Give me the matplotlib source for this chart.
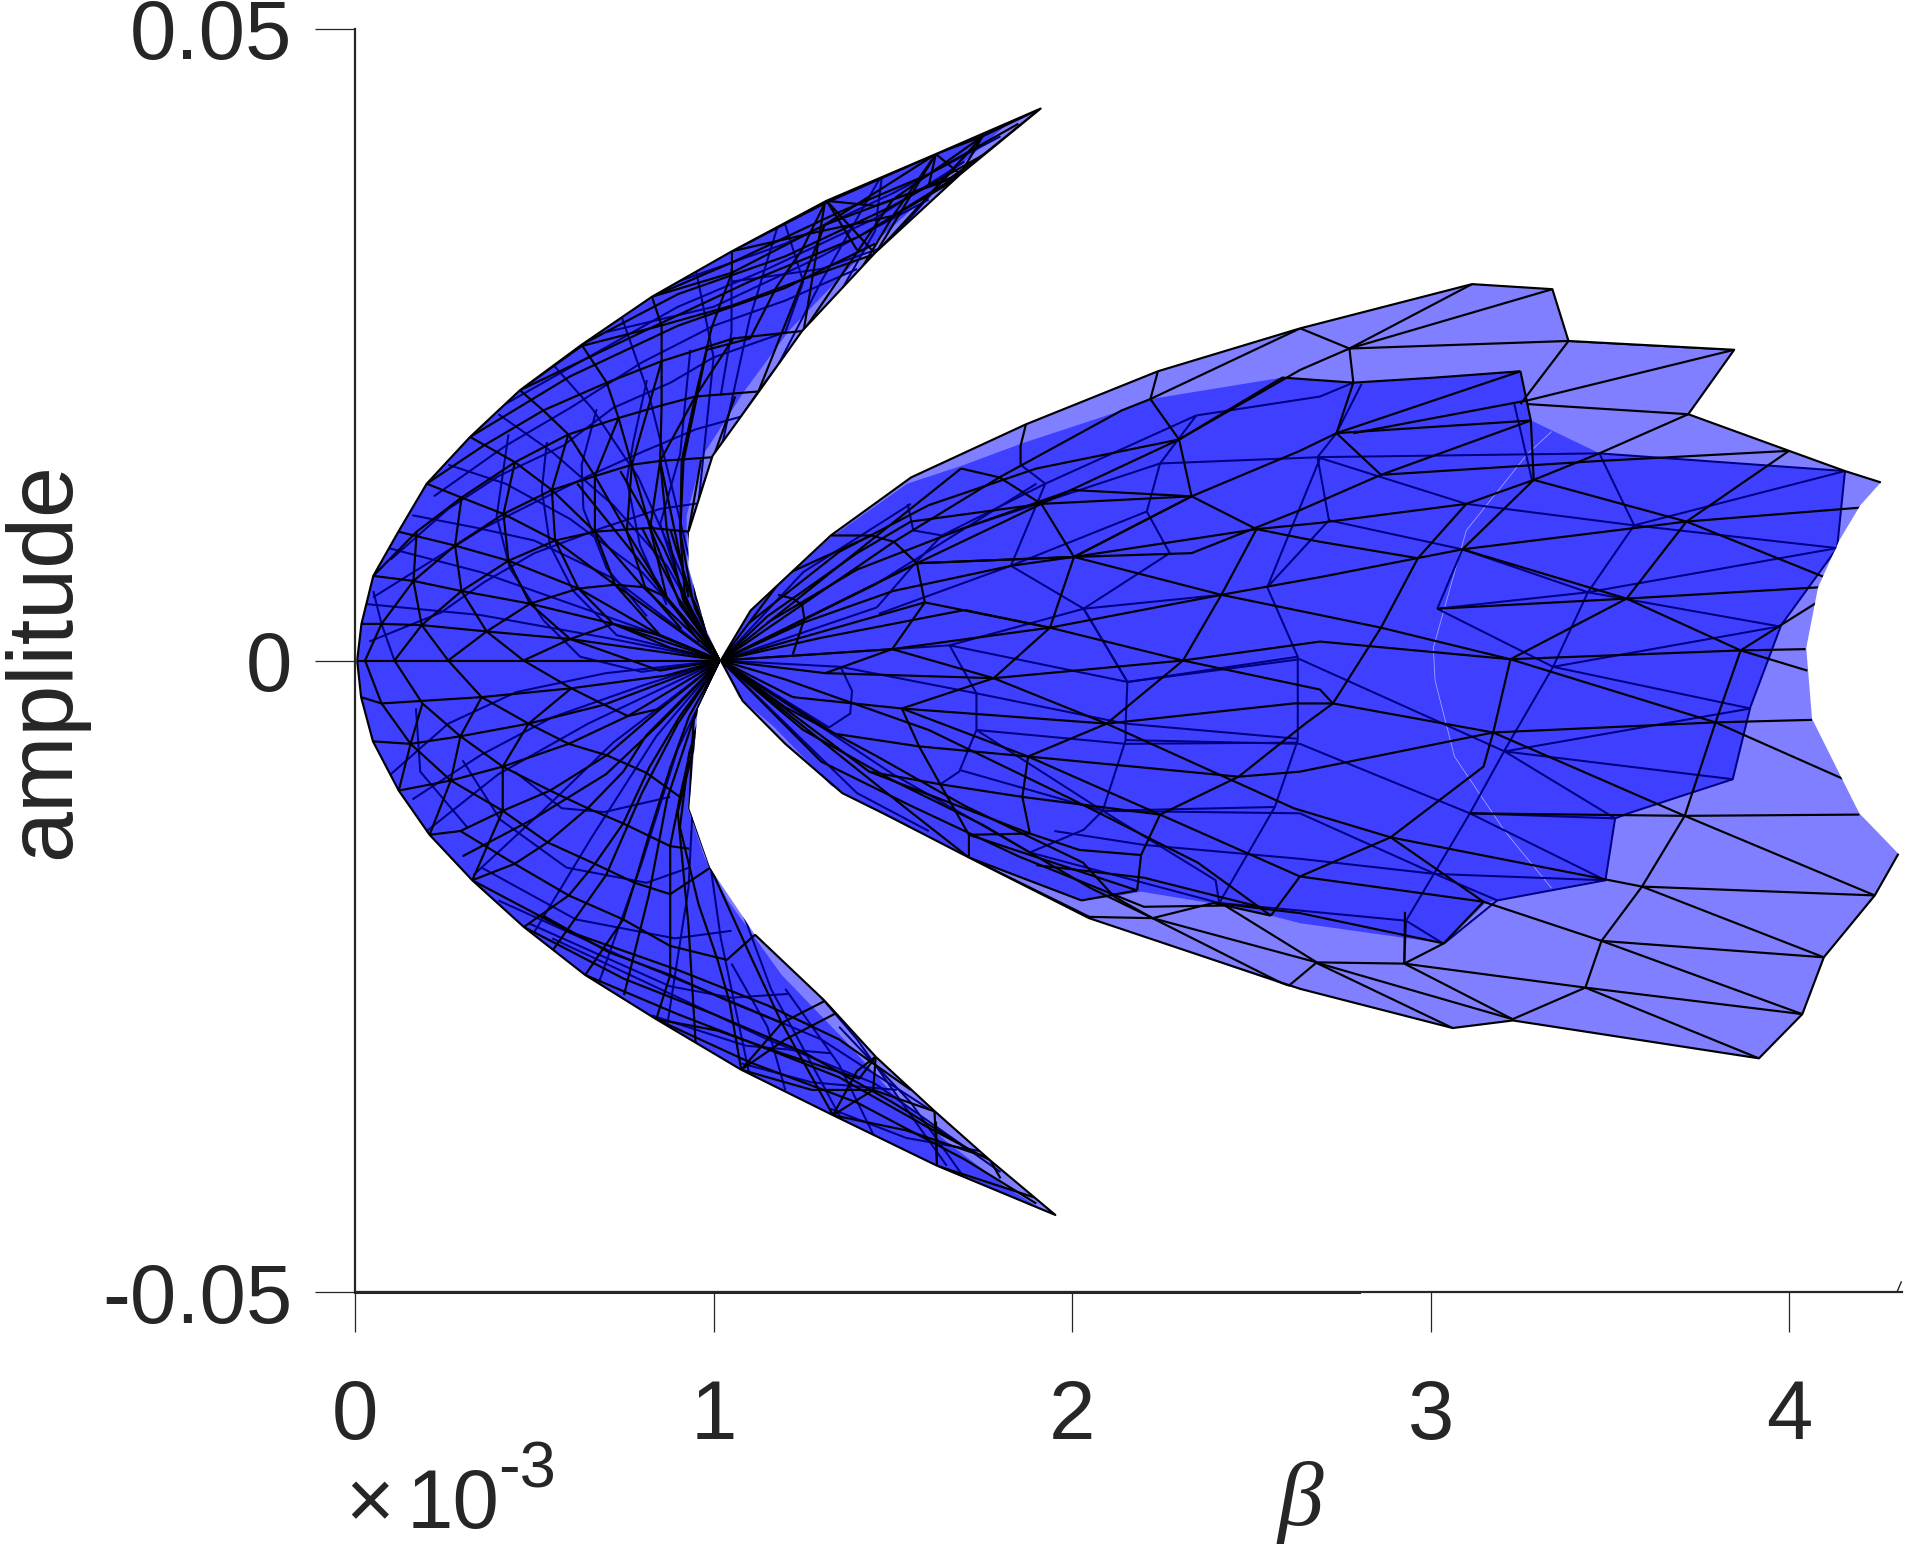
import matplotlib
matplotlib.use("Agg")
import matplotlib.pyplot as plt
from matplotlib.collections import LineCollection
from matplotlib.patches import Polygon

plt.rcParams['font.family'] = ['Liberation Sans', 'DejaVu Sans']
plt.rcParams['mathtext.default'] = 'regular'

# beta is in units of 1e-3, amplitude in units of 1e-3
X_TICKS = [0, 1, 2, 3, 4]
Y_TICKS = [-0.05, 0, 0.05]
Y_TICK_LABELS = ['-0.05', '0', '0.05']

# ========== silhouettes ==========
LEFT_OUTER = [(.006,0),(.018,2.9),(.051,6.7),(.121,10.2),(.2,14),(.321,17.7),(.46,21.4),(.632,25),(.828,28.8),
              (1.051,32.4),(1.315,36.4),(1.62,40.1),(1.912,43.7),(1.688,38.5),(1.451,32.3),(1.247,26.1),(1.129,21.4),
              (.997,16.2),(.93,10.2),(.93,7.4),(.982,2.1),(1.02,0),(.956,-3.8),(.932,-11.7),(.99,-16.4),(1.115,-21.7),
              (1.308,-26.9),(1.453,-31.4),(1.617,-35.7),(1.768,-39.5),(1.953,-43.9),(1.623,-40),(1.333,-36),(1.077,-32.4),
              (.84,-28.4),(.642,-24.9),(.471,-21.1),(.327,-17.4),(.208,-13.8),(.122,-10.3),(.05,-6.4),(.017,-2.9)]
LEFT_INNER = [(.006,0),(.018,2.9),(.051,6.7),(.121,10.2),(.2,14),(.321,17.7),(.46,21.4),(.632,25),(.828,28.8),
              (1.051,32.4),(1.315,36.4),(1.62,40.1),(1.82,42.5),(1.66,38.5),(1.42,32.3),(1.21,26.1),(1.085,21.3),
              (.969,16.2),(.925,11.5),(.925,7.8),(.97,3),(1.02,0),(.95,-3.8),(.928,-11.7),(.975,-15.6),(1.04,-19),
              (1.19,-24.9),(1.36,-29.9),(1.49,-34),(1.65,-38.1),(1.81,-41.6),(1.93,-43.7),(1.623,-40),(1.333,-36),
              (1.077,-32.4),(.84,-28.4),(.642,-24.9),(.471,-21.1),(.327,-17.4),(.208,-13.8),(.122,-10.3),(.05,-6.4),(.017,-2.9)]
RIGHT_OUTER = [(1.02,0),(1.103,3.95),(1.327,9.9),(1.551,14.5),(1.871,18.7),(2.239,22.9),(2.636,26.3),(3.115,29.8),
               (3.339,29.4),(3.384,25.3),(3.846,24.6),(3.718,19.5),(3.999,16.6),(4.155,15),(4.255,14.1),(4.198,12.3),
               (4.139,9.5),(4.08,5.8),(4.047,1.0),(4.063,-4.6),(4.149,-9.5),(4.195,-12.1),(4.304,-15.3),(4.238,-18.6),
               (4.096,-23.5),(4.036,-28),(3.915,-31.5),(3.229,-28.5),(3.061,-29.1),(2.636,-26),(2.602,-25.8),(2.047,-20.4),
               (1.712,-15.6),(1.487,-12.3),(1.359,-10.5),(1.2,-6.6),(1.081,-3.2)]
RIGHT_INNER = [(1.02,0),(1.103,3.9),(1.32,9.6),(1.54,14),(1.69,15.4),(1.861,17.2),(2.139,19.8),(2.219,20.7),(2.586,22.4),(2.783,22),
               (3.012,22.4),(3.25,22.9),(3.28,19),(3.471,16.4),(4.156,15),(4.132,8.9),(3.976,2.8),(3.89,-3.7),(3.843,-9.3),
               (3.551,-12.1),(3.514,-12.5),(3.487,-17.3),(3.185,-19),(3.153,-19.2),(3.037,-22.4),(2.636,-20.8),(2.554,-20.2),
               (2.426,-19.4),(2.192,-18.3),(2.117,-18.7),(2.026,-19),(1.712,-15.6),(1.487,-12.4),(1.327,-9.9),(1.166,-5.2),(1.07,-2.9)]

# ========== left lobe mesh ==========
LEFT_EDGES = [
    [(.006,0),(.018,2.9),(.051,6.7),(.121,10.2),(.2,14),(.321,17.7),(.46,21.4),(.632,25),(.828,28.8),(1.051,32.4),(1.315,36.4),(1.62,40.1),(1.912,43.7),(1.688,38.5),(1.451,32.3),(1.247,26.1),(1.129,21.4),(.997,16.2),(.93,10.2)],
    [(1.453,-31.4),(1.617,-35.7),(1.768,-39.5),(1.953,-43.9),(1.623,-40),(1.333,-36),(1.077,-32.4),(.84,-28.4),(.642,-24.9),(.471,-21.1),(.327,-17.4),(.208,-13.8),(.122,-10.3),(.05,-6.4),(.017,-2.9),(.006,0)],
    [(1.115,-21.7),(1.308,-26.9),(1.453,-31.4)],
]
LEFT_FRONT = [
    # rings, upper half
    [(.11,0),(.186,2.8),(.297,5.5),(.428,7.9),(.558,9.5),(.669,10.2),(.823,10.5),(.93,10.2)],
    [(.028,0),(.074,2.9),(.163,6.3),(.279,9.1),(.414,11.6),(.549,13.5),(.669,14.6),(.772,15.5),(.851,15.8),(1.0,16.1)],
    [(.051,6.7),(.172,10.2),(.297,12.9),(.446,15.7),(.595,17.9),(.735,19.2),(.855,20.2),(.949,20.9),(1.125,21.3)],
    [(.2,14),(.358,17),(.525,19.8),(.702,22),(.855,23.7),(1.055,25.5),(1.251,26.1)],
    [(.46,21.4),(.632,24.9),(.851,26.5),(1.051,28.1),(1.26,30.3),(1.451,32.2)],
    [(.47,0),(.6,1.7),(.72,2.9),(.851,2.0),(1.02,0)],
    [(.26,0),(.367,2.3),(.488,4.5),(.623,5.7),(.725,6),(.809,5.8),(.869,5),(1.02,0)],
    [(.828,28.8),(1.051,30.7),(1.31,34.5),(1.5,36.5),(1.688,38.5)],
    [(1.051,32.4),(1.31,36.2),(1.62,40.1),(1.75,41.5),(1.912,43.7)],
    # towards the centre, upper half
    [(.006,0),(1.02,0)],
    [(.018,2.9),(.074,2.9),(.186,2.8),(.367,2.3),(.6,1.7),(1.02,0)],
    [(.051,6.7),(.163,6.3),(.297,5.5),(.488,4.5),(.72,2.9),(1.02,0)],
    [(.121,10.2),(.279,9.1),(.428,7.9),(.623,5.7),(.851,2),(1.02,0)],
    [(.2,14),(.297,12.9),(.414,11.6),(.558,9.5),(.725,6),(1.02,0)],
    [(.321,17.7),(.446,15.7),(.549,13.5),(.669,10.2),(.804,5.8),(1.02,0)],
    [(.46,21.4),(.525,19.8),(.595,17.9),(.669,14.6),(.758,10.2),(.869,5),(1.02,0)],
    [(.632,25),(.702,22),(.735,19.2),(.772,15.5),(.823,10.5),(.907,4.4),(1.02,0)],
    [(.828,28.8),(.855,26.5),(.855,20.2),(.851,15.8),(.87,10.2),(.916,4.7),(1.02,0)],
    [(1.051,32.4),(1.051,30.7),(.995,26.4),(.949,20.9),(.911,15.8),(.907,10.2),(.921,4.7),(1.02,0)],
    [(1.31,36.2),(1.246,32.5),(1.176,29.6),(1.102,25.5),(.981,24.6),(.916,15.8),(.907,10.2),(.94,5),(1.02,0)],
    [(1.62,40.1),(1.5,35.2),(1.38,29.5),(1.251,26.1),(1.125,21.3),(1.0,16.1),(.93,10.2),(.95,5),(1.02,0)],
    # arcs, upper half
    [(.172,10.2),(.163,6.3),(.186,2.8),(.26,0)],
    [(.297,12.9),(.279,9.1),(.297,5.5),(.367,2.3),(.47,0)],
    [(.446,15.7),(.414,11.6),(.428,7.9),(.488,4.5),(.6,1.7),(.73,.4),(.85,-.8),(1.02,0)],
    [(.595,17.9),(.549,13.5),(.558,9.5),(.623,5.7),(.72,2.9),(.88,1),(1.02,0)],
    [(.735,19.2),(.669,14.6),(.669,10.2),(.725,6),(.851,2)],
    [(.855,23.7),(.772,15.5),(.758,10.2),(.809,5.8),(.91,2.5)],
    [(1.055,25.5),(.949,20.9),(.851,15.8),(.823,10.5),(.869,5)],
    # upper tip
    [(1.451,32.2),(1.315,36.4)],
    [(1.688,38.5),(1.62,40.1)],
    [(1.451,32.2),(1.62,40.1)],
    [(1.251,26.1),(1.31,36.2)],
    [(1.251,26.1),(1.5,36.5),(1.75,41.5)],
    [(1.451,32.2),(1.75,41.5)],
    [(1.125,21.3),(1.31,34.5),(1.62,40.1)],
    [(.632,25),(.9,29),(1.2,32),(1.5,36),(1.75,40),(1.912,43.7)],
    [(.46,21.4),(.8,26),(1.1,30),(1.4,33.5),(1.7,38.5)],
    [(.321,17.7),(.6,22.5),(.9,26.5),(1.2,29.5),(1.45,33)],
    [(.828,28.8),(1.05,31.5),(1.35,35.5),(1.6,38.5),(1.85,42.5)],
    [(1.05,32.4),(1.3,34),(1.5,35.2),(1.688,38.5)],
    [(1.315,36.4),(1.45,36),(1.65,38),(1.8,41)],
    [(1.315,36.4),(1.4,32.5)],
    [(1.62,40.1),(1.6,37.6)],
    [(1.75,41.5),(1.688,38.5)],
    # fan along the inner edge, upper
    [(.93,10.2),(1.02,0)],
    [(.88,10.3),(.95,4),(1.02,0)],
    [(.8,10.5),(.9,5),(1.02,0)],
    [(.965,15.9),(.93,10.2),(.99,3),(1.02,0)],
    [(1.06,20.9),(.96,13),(.95,6),(1.02,0)],
    [(.851,15.8),(.93,5)],
    [(.74,15),(.86,9),(.97,2)],
    [(.62,14),(.79,8),(.96,1.5)],
    # towards the centre, lower half
    [(.017,-2.9),(.074,-3.4),(.353,-2.9),(.603,-2.2),(.866,-1.2),(1.02,0)],
    [(.05,-6.4),(.155,-6.6),(.294,-6),(.484,-5),(.695,-3.5),(1.02,0)],
    [(.122,-10.3),(.267,-9.5),(.412,-8.4),(.596,-6.6),(.761,-4.4),(1.02,0)],
    [(.208,-13.8),(.294,-13.5),(.412,-11.9),(.544,-10.3),(.702,-7.5),(.853,-3.8),(1.02,0)],
    [(.327,-17.4),(.445,-16.1),(.537,-14.4),(.649,-11.7),(.748,-8.8),(.813,-5.9),(1.02,0)],
    [(.471,-21.1),(.596,-18.6),(.669,-16.1),(.748,-12.9),(.82,-8.5),(.906,-4.4),(1.02,0)],
    [(.642,-24.9),(.748,-20.5),(.78,-17.6),(.82,-13.8),(.879,-8.5),(.932,-4.4),(1.02,0)],
    [(.84,-28.4),(.879,-24.9),(.879,-18.5),(.879,-14.7),(.906,-10.8),(.945,-5.9),(1.02,0)],
    [(1.077,-32.4),(1.044,-27),(1.011,-23.7),(.958,-19.3),(.906,-13.2),(.932,-7.3),(1.02,0)],
    [(1.333,-36),(1.19,-28.7),(1.103,-23.4),(.991,-16.4),(.932,-11.7),(.945,-4.4),(1.02,0)],
    [(.3,-15.5),(.5,-12.5),(.7,-9),(.85,-5),(1.02,0)],
    [(.55,-23),(.7,-17),(.8,-10.5),(.9,-5),(1.02,0)],
    [(.75,-26.5),(.82,-18.5),(.87,-11),(.94,-5),(1.02,0)],
    [(.95,-30.3),(.93,-21),(.9,-12),(.97,-4),(1.02,0)],
    # rings, lower half
    [(.028,0),(.074,-3.4),(.155,-6.6),(.267,-9.5),(.412,-11.9),(.537,-14.4),(.669,-16.1),(.78,-17.6),(.879,-18.5),(.991,-16.4)],
    [(.11,0),(.188,-3.4),(.294,-6),(.412,-8.4),(.544,-10.3),(.649,-11.7),(.748,-12.9),(.879,-14.7),(.932,-14.9)],
    [(.26,0),(.353,-2.9),(.484,-5),(.596,-6.6),(.702,-7.5),(.813,-8.9),(.906,-10.8)],
    [(.47,0),(.603,-2.2),(.695,-3.5),(.761,-4.4),(.853,-3.8)],
    [(.294,-13.5),(.445,-16.1),(.596,-18.6),(.748,-20.5),(.879,-22.6),(1.037,-23.7),(1.116,-21.7)],
    [(.524,-20.2),(.708,-23.1),(.879,-24.9),(1.044,-27),(1.19,-28.7),(1.307,-27)],
    [(.84,-28.4),(1.011,-29.3),(1.19,-31.1),(1.406,-33.1),(1.452,-31.4)],
    [(1.077,-32.4),(1.274,-34),(1.445,-34),(1.616,-35.7)],
    [(1.333,-36),(1.537,-37.2),(1.768,-39.4)],
    [(1.623,-40),(1.893,-42.5)],
    [(1.077,-32.4),(1.19,-28.7)],
    [(1.333,-36),(1.445,-34),(1.452,-31.4)],
    [(1.623,-40),(1.616,-35.7),(1.44,-30)],
    [(.122,-10.3),(.155,-6.6),(.188,-3.4)],
    [(.208,-13.8),(.267,-9.5),(.294,-6),(.353,-2.9)],
    [(.327,-17.4),(.412,-11.9),(.412,-8.4),(.484,-5),(.603,-2.2)],
    # lower tip
    [(.642,-24.9),(.9,-28),(1.1,-30.2),(1.35,-33),(1.6,-37),(1.8,-40),(1.953,-43.9)],
    [(.84,-28.4),(1.1,-31.8),(1.4,-35),(1.7,-39.5),(1.9,-43)],
    [(.471,-21.1),(.75,-25.2),(1,-28),(1.25,-31),(1.5,-35),(1.7,-38.5)],
    [(.327,-17.4),(.6,-21.5),(.9,-24.5),(1.15,-27.3),(1.35,-30),(1.55,-34)],
    [(1.077,-32.4),(1.2,-30),(1.35,-27.8)],
    [(1.333,-36),(1.4,-32.5),(1.45,-31.4)],
    [(1.623,-40),(1.62,-36.5)],
    [(1.8,-41),(1.768,-39.4)],
]
LEFT_BACK = [
    [(.051,5.5),(.074,2.9),(.11,0)],
    [(.428,17.9),(.395,11.4),(.432,7.3),(.525,3.2),(.628,.3),(.8,-.9),(1.02,0)],
    [(.535,17.3),(.521,13.5),(.544,9.1),(.609,5.5),(.73,2),(1.02,0)],
    [(.674,19.9),(.632,15.5),(.637,12),(.702,7.3),(.814,3.5)],
    [(.814,22.2),(.776,17.3),(.758,14.3),(.795,9.1),(.869,4.4)],
    [(.935,24.6),(.907,16.4),(.851,10.8),(.925,4.4)],
    [(.04,1.5),(.24,3.8),(.36,6.2),(.5,8.5),(.69,10.5),(.85,12),(.97,12.5)],
    [(.05,5),(.22,8),(.36,10.5),(.5,12.5),(.65,14.6),(.8,16.5),(.95,18.3),(1.1,19.5)],
    [(.1,8),(.26,12),(.4,14.6),(.58,17),(.72,20),(.88,22),(1,24),(1.2,26)],
    [(.22,13),(.42,17),(.6,20),(.8,23.6),(1,26.5),(1.2,28.5),(1.4,31)],
    [(.4,20),(.65,24),(.9,28),(1.15,31),(1.45,35),(1.7,39.5)],
    [(.9,30),(1.2,33),(1.5,37),(1.8,41.5)],
    [(.7,26),(1,28),(1.3,32),(1.6,36.5)],
    [(1.05,30),(1.3,31),(1.5,33),(1.7,37)],
    [(1.2,34.5),(1.25,30),(1.2,26)],
    [(1.47,38.5),(1.45,34),(1.35,29)],
    [(1.05,31),(1.05,26),(1.02,21)],
    [(.02,4.5),(.35,3.6),(.7,1.8),(1.02,0)],
    [(.08,9),(.35,7),(.55,5),(.8,2.5),(1.02,0)],
    [(.16,11.5),(.34,10.5),(.5,9.5),(.72,6.5),(1.02,0)],
    [(.26,15.5),(.42,14),(.6,11.2),(.8,7),(1.02,0)],
    [(.4,19.5),(.55,16.5),(.72,12.3),(.87,7.5),(1.02,0)],
    [(.55,23.5),(.66,20),(.79,14.5),(.9,7.5),(1.02,0)],
    [(.74,27.5),(.82,21),(.89,13),(.95,6),(1.02,0)],
    [(.95,31),(1,24),(.96,13),(.98,5),(1.02,0)],
    [(1.18,34.5),(1.1,27),(1,14),(1.02,0)],
    [(1.47,38.5),(1.3,30),(1.1,19),(1,8),(1.02,0)],
    [(1.75,41.5),(1.5,33.5),(1.2,24),(1.04,14),(1.02,0)],
    [(.1,-9),(.26,-5),(.45,-2.5),(.7,-1),(1.02,0)],
    [(.16,-11),(.35,-7.5),(.55,-4.5),(.8,-2),(1.02,0)],
    [(.17,-3.8),(.182,-8.8),(.313,-13.2)],
    [(.3,-7.9),(.405,-12.6),(.59,-16.4),(.813,-17.6),(.932,-16.4)],
    [(.445,-8.8),(.577,-11.7),(.695,-12),(.879,-10.8)],
    [(.353,-16.4),(.616,-20.5),(.892,-22),(1.05,-21.4)],
    [(.484,-20.8),(.879,-25.8),(1.05,-26.7),(1.208,-26.4)],
    [(.827,-28.1),(1.09,-30.5),(1.327,-31.1)],
    [(1.077,-31.9),(1.274,-33.4),(1.511,-34)],
    [(1.327,-35.5),(1.537,-37.8),(1.774,-39)],
    [(.2,-13.5),(.4,-9),(.65,-5),(1.02,0)],
    [(.33,-17),(.52,-12),(.72,-6.5),(1.02,0)],
    [(.5,-21.5),(.66,-14),(.84,-6),(1.02,0)],
    [(.68,-25.5),(.8,-16),(.9,-7),(1.02,0)],
    [(.87,-29),(.93,-18),(.95,-7),(1.02,0)],
    [(1.1,-32.8),(1.02,-22),(.96,-10),(1.02,0)],
    [(1.36,-36.5),(1.16,-26),(.99,-13),(1.02,0)],
    [(1.65,-40),(1.4,-30),(1.1,-20),(.95,-8),(1.02,0)],
    [(.55,-22),(.85,-26),(1.15,-30),(1.45,-33.5),(1.8,-40.5)],
    [(.4,-19),(.75,-23.5),(1.05,-27),(1.3,-30),(1.6,-35.5)],
    [(1.2,-34),(1.15,-29),(1.05,-24)],
    [(1.45,-37.8),(1.35,-32),(1.2,-26)],
    [(1.7,-41),(1.55,-35),(1.35,-29)],
]

# ========== right lobe mesh ==========
RIGHT_EDGES = [
    [(1.02,0),(1.103,3.95),(1.327,9.9),(1.551,14.5),(1.871,18.7),(2.239,22.9),(2.636,26.3),(3.115,29.8),(3.339,29.4),(3.384,25.3),(3.846,24.6),(3.718,19.5),(3.999,16.6),(4.155,15),(4.255,14.1)],
    [(4.304,-15.3),(4.238,-18.6),(4.096,-23.5),(4.036,-28),(3.915,-31.5),(3.229,-28.5),(3.061,-29.1),(2.636,-26),(2.047,-20.4),(1.712,-15.6),(1.487,-12.3),(1.359,-10.5),(1.2,-6.6),(1.081,-3.2),(1.02,0)],
]
RIGHT_FRONT = [
    # rings
    [(3.999,16.6),(3.713,11),(3.546,4.9),(3.222,.1),(3.174,-5.7),(3.147,-8.4),(2.888,-14),(2.635,-17.1),(2.554,-20.2)],
    [(4.077,4.6),(3.864,.8),(3.794,-4.9),(3.708,-12.3),(3.589,-17.9),(3.476,-22.2),(3.431,-25.9),(3.228,-28.4)],
    [(3.25,22.9),(3.279,19),(3.287,14.3),(3.088,8.8)],
    [(2.773,24.7),(2.784,22),(2.737,18),(2.861,14.7)],
    [(3.099,12.4),(2.964,8.1),(2.861,2.6),(2.727,-3.4),(2.65,-5),(2.464,-9.2),(2.245,-12.2),(2.192,-15.4),(2.181,-18.2)],
    [(2.514,10.4),(2.416,5.2),(2.309,0),(2.096,-5),(1.877,-7.6),(1.861,-10.8),(1.882,-13.7)],
    [(2.218,20.7),(2.298,17.5),(2.333,13),(2.005,8.2)],
    [(1.69,15.2),(1.797,14.5),(1.914,12.4),(2.005,8.2),(1.938,2.6),(1.781,-1.4),(1.525,-3.8),(1.573,-6.8),(1.632,-9.8),(1.712,-13.8)],
    [(1.327,9.9),(1.44,9.9),(1.503,9.4),(1.567,7.7),(1.589,4.6),(1.498,.9),(1.311,-1)],
    [(1.18,5.2),(1.221,4.9),(1.247,4.4),(1.253,3.3),(1.221,.5)],
    # long diagonals
    [(1.02,0),(1.503,9.4),(1.797,14.5),(2.138,19.8),(2.218,20.7),(2.636,26.3)],
    [(2.239,22.9),(2.218,20.7)],
    [(1.871,18.7),(1.856,17),(1.856,15.5)],
    [(1.02,0),(1.567,7.7),(1.914,12.4),(2.298,17.5),(2.586,22.4),(2.784,22),(3.012,22.4),(3.25,22.9)],
    [(1.02,0),(1.567,7.7),(2.005,8.2),(2.333,13),(2.635,16.6),(2.737,18),(3.25,22.9)],
    [(1.914,12.4),(2.333,13)],
    [(2.298,17.5),(2.635,23),(2.773,24.7),(3.115,29.8)],
    [(2.773,24.7),(3.339,29.4)],
    [(2.773,24.7),(3.384,25.3),(3.846,24.6)],
    [(2.636,26.3),(2.773,24.7)],
    [(3.384,25.3),(3.25,20.3)],
    [(3.846,24.6),(3.271,20.6),(2.784,18)],
    [(3.718,19.5),(3.47,16.4),(3.287,14.3),(3.099,12.4),(2.691,10.9),(2.514,10.4),(2.005,8.2),(1.567,7.7)],
    [(3.718,19.5),(3.271,20.3)],
    [(2.737,18),(3.279,19)],
    [(3.279,19),(2.861,14.7),(2.635,11.9),(2.333,8.5),(2.005,8.2)],
    [(2.861,14.7),(3.47,15.8),(3.999,16.6)],
    [(3.287,14.3),(3.713,11),(4.098,6.6)],
    [(3.713,11),(4.196,12.1)],
    [(3.088,8.8),(3.713,11)],
    [(3.088,8.8),(3.546,4.9),(3.864,.8),(4.05,-.8)],
    [(3.088,8.8),(2.691,6.6),(2.416,5.2),(1.938,2.6),(1.498,.9)],
    [(3.018,4.1),(3.546,4.9),(4.085,5.8)],
    [(2.964,8.1),(2.691,9.4),(2.514,10.4),(2.333,13)],
    [(2.005,8.2),(2.416,5.2),(2.691,3.6),(2.861,2.6),(3.222,.1),(3.794,-4.9),(4.152,-9.4)],
    [(3.222,.1),(3.864,.8),(4.045,.9)],
    [(1.311,-1),(1.781,-1.4),(2.309,0),(2.691,1.5),(3.222,.1)],
    [(1.589,4.6),(1.938,2.6),(2.309,0),(2.691,-2.3),(2.727,-3.4),(3.174,-5.7),(3.708,-12.3),(4.238,-18.6)],
    [(1.525,-3.8),(2.096,-5),(2.618,-3.4),(2.727,-3.4)],
    [(3.174,-5.7),(3.794,-4.9),(4.063,-4.7)],
    [(1.877,-7.6),(2.464,-9.2),(2.635,-8.8),(3.174,-5.7)],
    [(3.109,-12.1),(3.708,-12.3),(4.195,-12.2)],
    [(1.498,.9),(1.781,-1.4),(2.096,-5),(2.618,-11.7),(2.888,-14),(3.147,-19.1)],
    [(2.888,-14),(3.589,-17.9),(4.096,-23.5)],
    [(3.589,-17.9),(4.238,-18.6)],
    [(1.525,-3.8),(1.877,-7.6),(2.245,-12.2),(2.635,-17.1),(3.147,-19.1),(3.476,-22.2),(4.096,-23.5)],
    [(3.476,-22.2),(4.036,-28)],
    [(2.926,-24),(3.431,-25.9),(4.036,-28)],
    [(3.431,-25.9),(3.915,-31.5)],
    [(2.926,-24),(3.228,-28.4)],
    [(2.678,-23.9),(2.926,-24),(2.928,-19.9)],
    [(2.678,-23.9),(3.228,-28.4)],
    [(2.678,-23.9),(3.061,-29.1)],
    [(2.4,-19.2),(2.635,-20),(3.036,-22.4),(3.147,-19.1)],
    [(3.036,-22.4),(2.926,-24)],
    [(1.338,-5.8),(1.573,-6.8),(1.877,-7.6)],
    [(1.221,-2.9),(1.525,-3.8)],
    [(1.632,-9.8),(1.861,-10.8),(2.245,-12.2)],
    [(1.434,-8.8),(1.632,-9.8)],
    [(1.434,-8.8),(1.882,-13.7)],
    [(1.712,-13.8),(1.882,-13.7),(2.02,-15),(2.192,-15.4)],
    [(1.712,-13.8),(2.181,-18.2)],
    [(1.712,-13.8),(1.712,-15.6),(2.026,-19)],
    [(1.712,-15.6),(2.048,-20.3),(2.224,-20.4),(2.394,-19.2),(2.554,-20.2)],
    [(2.026,-19),(2.181,-18.2)],
    [(2.224,-20.4),(2.682,-23.9)],
    [(2.224,-20.4),(2.602,-25.8)],
    [(2.117,-18.7),(2.224,-20.4)],
    [(2.426,-19.4),(2.682,-23.9),(2.602,-25.8)],
    [(1.9,-16.2),(2.2,-17.2),(2.55,-19.7)],
    # fan at the centre
    [(1.02,0),(1.35,7.5),(1.69,15.2)],
    [(1.02,0),(1.2,6.8),(1.44,9.9)],
    [(1.02,0),(1.589,4.6)],
    [(1.02,0),(1.498,.9)],
    [(1.02,0),(1.311,-1)],
    [(1.02,0),(1.221,-2.9)],
    [(1.02,0),(1.338,-5.8)],
    [(1.02,0),(1.434,-8.8)],
    [(1.02,0),(1.55,-12),(1.712,-15.6)],
    [(1.02,0),(1.2,-3.7),(1.45,-7.5),(1.7,-11.5),(2.03,-16),(2.117,-18.7)],
    [(1.02,0),(1.25,-5.5),(1.5,-9.5),(1.75,-13),(2.05,-18),(2.224,-20.4)],
    [(1.02,0),(1.3,-8),(1.55,-11.5),(1.85,-15.5),(2.2,-19.5),(2.426,-19.4)],
    [(1.02,0),(1.2,-1.5),(1.6,-5.5),(2,-11),(2.35,-16),(2.554,-20.2)],
    [(1.02,0),(1.15,3.5),(1.4,8.5),(1.55,11),(1.914,12.4)],
    [(1.02,0),(1.25,3),(1.5,5.5),(1.83,7.5),(2.005,8.2)],
    [(1.02,0),(1.3,1.8),(1.7,4),(1.938,2.6)],
    [(1.1,3),(1.35,8.6),(1.6,12.3),(1.9,15.2),(2.298,17.5)],
    [(1.15,3),(1.4,7.2),(1.7,10.5),(2,13.5),(2.333,13)],
]
RIGHT_BACK = [
    [(2.346,19.4),(2.245,15.6),(2.208,11.8),(2.272,8.5),(2.032,4.1),(2.154,-1.7),(2.149,-5),(2.149,-6.3),(2.085,-11.9),(2.032,-13.4),(1.882,-15.2)],
    [(2.691,16),(2.544,5.8),(2.629,.3),(2.629,-3.4),(2.629,-6.3),(2.565,-11.6),(2.41,-19.2)],
    [(2.807,21.9),(2.737,18),(2.684,16.1),(2.716,11.1),(2.544,5.8)],
    [(3.233,20.3),(3.282,14.3)],
    [(3.47,16.4),(3.567,10.7),(3.438,5.4),(3.341,-.5),(3.206,-7.1),(3.109,-12.1),(2.931,-20.6),(2.926,-24)],
    [(4.155,15),(4.133,8.9),(3.977,2.8),(3.891,-3.7),(3.842,-9.4),(3.551,-12.1),(3.514,-12.5),(3.487,-17.4),(3.185,-19),(3.037,-22.4)],
    [(3.088,8.8),(3.018,4.1)],
    [(2.684,16.1),(3.47,16.4),(4.155,15)],
    [(2.716,11.1),(3.088,8.8)],
    [(2.684,16.1),(3.099,12.4),(3.567,10.7)],
    [(3.088,8.8),(3.438,5.4),(3.972,2.7)],
    [(3.018,4.1),(3.341,-.5),(3.891,-3.8)],
    [(4.155,15),(3.567,10.7)],
    [(3.567,10.7),(4.133,8.9)],
    [(3.438,5.4),(4.133,8.9)],
    [(3.341,-.5),(3.972,2.7)],
    [(3.018,4.1),(3.438,5.4)],
    [(3.206,-7.2),(3.891,-3.8)],
    [(3.206,-7.2),(3.842,-9.4)],
    [(2.154,-1.7),(2.635,.1),(3.206,-7.2),(3.514,-12.5)],
    [(2.149,-6.3),(2.635,-6.6),(3.109,-12.1),(3.487,-17.4)],
    [(3.109,-12.1),(3.514,-12.5)],
    [(1.95,-13.5),(2.2,-14.6),(2.635,-15.7),(3.012,-16.9),(3.487,-17.4)],
    [(2.085,-11.9),(2.635,-12.1),(3.012,-16.9),(3.186,-19)],
    [(2.41,-19.2),(2.635,-19.8),(2.931,-20.6),(3.034,-22.4)],
    [(2.245,15.6),(2.691,16.1)],
    [(2.346,19.4),(2.691,20.9),(2.784,22)],
    [(1.829,7.5),(2.208,11.8)],
    [(1.925,14),(2.346,19.4)],
    [(1.829,7.5),(2.032,4.1),(2.154,-1.7)],
    [(2.032,4.1),(2.416,5.2)],
    [(1.856,15.5),(1.925,14),(1.829,7.5)],
    [(1.541,12.4),(1.557,10.3),(1.637,9.9),(1.562,7.7)],
    [(1.637,9.9),(1.925,14)],
    [(1.637,9.9),(2.245,15.6)],
    [(1.455,4.2),(1.562,7.7)],
    [(1.829,7.5),(1.461,3.7)],
    [(1.658,1.2),(1.733,-2.6),(1.733,-5),(1.733,-5.5),(1.685,-8.8),(1.632,-9.8)],
    [(1.354,-.5),(1.386,-2.4),(1.381,-4.2),(1.322,-5.3)],
    [(2.032,4.1),(1.658,1.2),(2.154,-1.7),(2.629,.3)],
    [(1.354,-.5),(1.733,-2.6),(2.149,-5),(2.63,-6.2)],
    [(1.733,-5.5),(2.149,-6.6),(2.629,-6.5)],
    [(1.733,-5.5),(2.085,-11.9)],
    [(2.085,-11.9),(2.565,-11.6)],
    [(1.69,-8.7),(2.085,-11.9),(2.4,-17.4),(2.41,-19.2)],
    [(1.882,-15.2),(2.41,-19.2)],
    [(1.02,0),(1.25,7),(1.55,12.4)],
    [(1.02,0),(1.45,6),(1.9,14)],
    [(1.02,0),(1.455,4.2)],
    [(1.02,0),(1.658,1.2)],
    [(1.02,0),(1.354,-.5)],
    [(1.02,0),(1.322,-5.3)],
    [(1.02,0),(1.5,-9),(1.882,-15.2)],
    [(1.02,0),(1.4,-10.5),(1.6,-13.5)],
]
# thin pale seam across the dark part
SEAM = [(3.336,18.1),(3.271,16.4),(3.099,10.3),(3.007,1),(3.012,-1.6),(3.066,-7.6),(3.206,-13.5),(3.336,-18)]


def scale_lines(lines):
    """amplitude back to real units"""
    return [[(b, a * 1e-3) for b, a in line] for line in lines]


def fill_part(ax, poly):
    xs = [p[0] for p in poly]
    ys = [p[1] * 1e-3 for p in poly]
    ax.fill(xs, ys, facecolor=(0, 0, 1), alpha=0.5, edgecolor='none', zorder=2, clip_on=False)


def draw_mesh(ax, outline, back, front, edges):
    # mesh lines stop at the silhouette, as the surface does
    clip = Polygon([(b, a * 1e-3) for b, a in outline], transform=ax.transData, facecolor='none', edgecolor='none')
    ax.add_patch(clip)
    back_lines = LineCollection(scale_lines(back), colors='#000080', linewidths=1.45, zorder=3)
    front_lines = LineCollection(scale_lines(front), colors='black', linewidths=1.55, zorder=4)
    edge_lines = LineCollection(scale_lines(edges), colors='black', linewidths=1.55, zorder=4)
    ax.add_collection(back_lines)
    ax.add_collection(front_lines)
    ax.add_collection(edge_lines)
    back_lines.set_clip_path(clip)
    front_lines.set_clip_path(clip)
    edge_lines.set_clip_on(False)


def main():
    fig = plt.figure(figsize=(19.06, 15.47), dpi=100)
    ax = fig.add_axes([355 / 1906, 255 / 1547, (1902 - 355) / 1906, 1263 / 1547])

    # two half transparent layers make the darker blue
    for poly in [LEFT_OUTER, LEFT_INNER, RIGHT_OUTER, RIGHT_INNER]:
        fill_part(ax, poly)

    ax.plot([p[0] for p in SEAM], [p[1] * 1e-3 for p in SEAM], color='#a0a0ff', lw=0.6, zorder=3)

    draw_mesh(ax, LEFT_OUTER, LEFT_BACK, LEFT_FRONT, LEFT_EDGES)
    draw_mesh(ax, RIGHT_OUTER, RIGHT_BACK, RIGHT_FRONT, RIGHT_EDGES)

    ax.set_xlim(0, 4.314)
    ax.set_ylim(-0.05, 0.05)
    ax.set_facecolor('none')

    for side in ['top', 'right']:
        ax.spines[side].set_visible(False)
    for side in ['left', 'bottom']:
        ax.spines[side].set_color('#262626')
        ax.spines[side].set_linewidth(1.6)
    ax.plot([0, 2.8], [-0.05, -0.05], color='#262626', lw=2.2, clip_on=False, zorder=5)
    ax.plot([4.255, 4.3, 4.312], [-0.05, -0.05, -0.0492], color='#262626', lw=1.0, clip_on=False, zorder=5)

    ax.set_xticks(X_TICKS)
    ax.set_xticklabels([str(t) for t in X_TICKS])
    ax.set_yticks(Y_TICKS)
    ax.set_yticklabels(Y_TICK_LABELS)
    ax.tick_params(axis='both', direction='out', length=29, width=0.9, color='#262626',
                   labelcolor='#262626', labelsize=60)
    ax.tick_params(axis='x', pad=33)
    ax.tick_params(axis='y', pad=16)

    fig.text(45 / 1906, 1 - 660 / 1547, 'amplitude', rotation=90, ha='center', va='center',
             fontsize=66, color='#262626')
    # a little higher than the reference so the text boxes stay inside the figure
    fig.text(345 / 1906, 1 - 1528 / 1547, '\u00d7', ha='left', va='baseline', fontsize=60, color='#262626')
    fig.text(407 / 1906, 1 - 1528 / 1547, '10', ha='left', va='baseline', fontsize=60, color='#262626')
    fig.text(498 / 1906, 1 - 1488 / 1547, '-3', ha='left', va='baseline', fontsize=47, color='#262626')
    fig.text(1300 / 1906, 1 - 1525 / 1547, '\u03b2', ha='center', va='baseline', fontsize=66,
             family=['Liberation Serif', 'DejaVu Serif'], style='italic', color='#262626')

    fig.savefig('out.png', dpi=100)


if __name__ == "__main__":
    main()
